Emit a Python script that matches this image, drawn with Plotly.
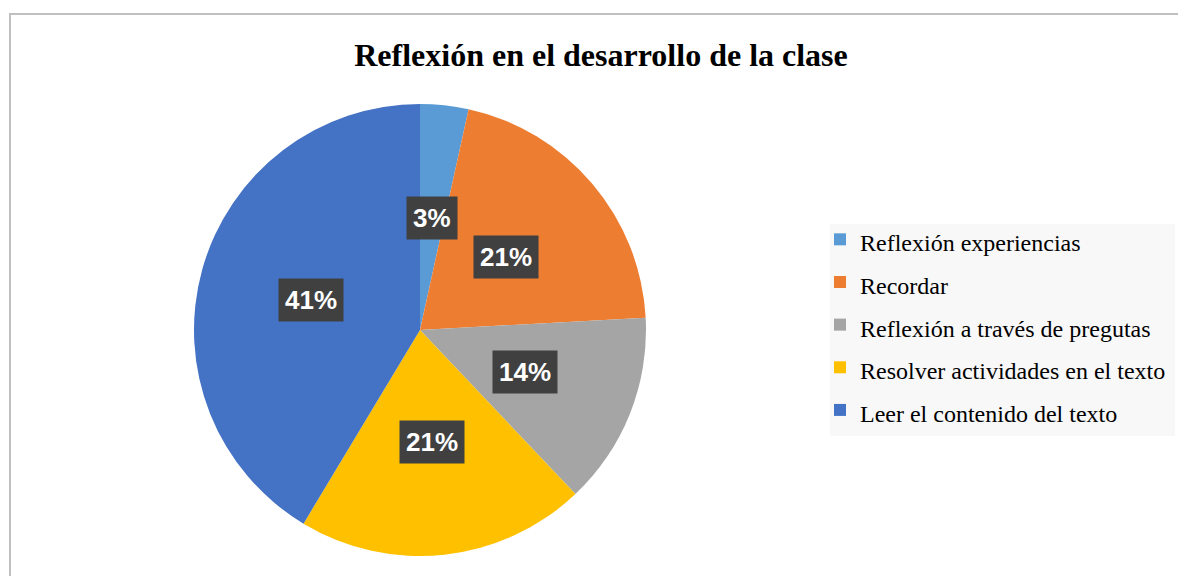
import math
import plotly.graph_objects as go

categories = ["Reflexión experiencias", "Recordar", "Reflexión a través de pregutas",
              "Resolver actividades en el texto", "Leer el contenido del texto"]
counts = [1, 6, 4, 6, 12]
colors = ["#5B9BD5", "#ED7D31", "#A5A5A5", "#FFC000", "#4472C4"]
title_text = "Reflexión en el desarrollo de la clase"

W, H = 1178, 576
cx, cy, R = 420, 330, 226  # pie centre / radius in pixels

fig = go.Figure()
fig.add_trace(go.Pie(
    labels=[f'<span style="font-size:24px">{c}</span>' for c in categories],
    values=counts,
    marker=dict(colors=colors, line=dict(width=0)),
    sort=False, direction="clockwise", rotation=0,
    textinfo="none", hoverinfo="label+percent",
    domain=dict(x=[(cx - R) / W, (cx + R) / W], y=[(H - cy - R) / H, (H - cy + R) / H]),
))

# data labels at half radius along each slice's mid-angle
total = sum(counts)
cum = 0
for v in counts:
    mid = (cum + v / 2) / total * 2 * math.pi
    cum += v
    px = cx + 0.5 * R * math.sin(mid)
    py = cy - 0.5 * R * math.cos(mid)
    fig.add_annotation(
        x=px / W, y=1 - py / H, xref="paper", yref="paper",
        text=f"<b>{round(v / total * 100)}%</b>", showarrow=False,
        font=dict(family="Liberation Sans, Arial", size=26, color="white"),
        bgcolor="#404040", borderpad=6, xanchor="center", yanchor="middle",
    )

# outer chart border (right/bottom edges fall outside the picture)
fig.add_shape(type="rect", xref="paper", yref="paper",
              x0=10 / W, x1=1.02, y0=-0.05, y1=1 - 14 / H,
              line=dict(color="#BFBFBF", width=2), fillcolor="rgba(0,0,0,0)", layer="below")
# legend background box
fig.add_shape(type="rect", xref="paper", yref="paper",
              x0=830 / W, x1=1175 / W, y0=1 - 436 / H, y1=1 - 224 / H,
              line=dict(width=0), fillcolor="#F8F8F8", layer="below")

fig.update_layout(
    width=W, height=H,
    margin=dict(l=0, r=0, t=0, b=0),
    paper_bgcolor="white", plot_bgcolor="white",
    title=dict(text=f"<b>{title_text}</b>", x=601 / W, xanchor="center",
               y=1 - 55 / H, yanchor="middle",
               font=dict(family="Liberation Serif, Times New Roman", size=32, color="black")),
    legend=dict(x=820 / W, y=1 - 213 / H, xanchor="left", yanchor="top",
                bgcolor="rgba(0,0,0,0)", borderwidth=0,
                font=dict(family="Liberation Serif, Times New Roman", size=30.5, color="#000000")),
    showlegend=True,
)

fig.write_html("out.html", config={"displayModeBar": False})
with open("out.html", encoding="utf-8") as f:
    html = f.read()
html = html.replace("<head>", "<head><style>html,body{margin:0;padding:0;overflow:hidden;}</style>", 1)
with open("out.html", "w", encoding="utf-8") as f:
    f.write(html)
